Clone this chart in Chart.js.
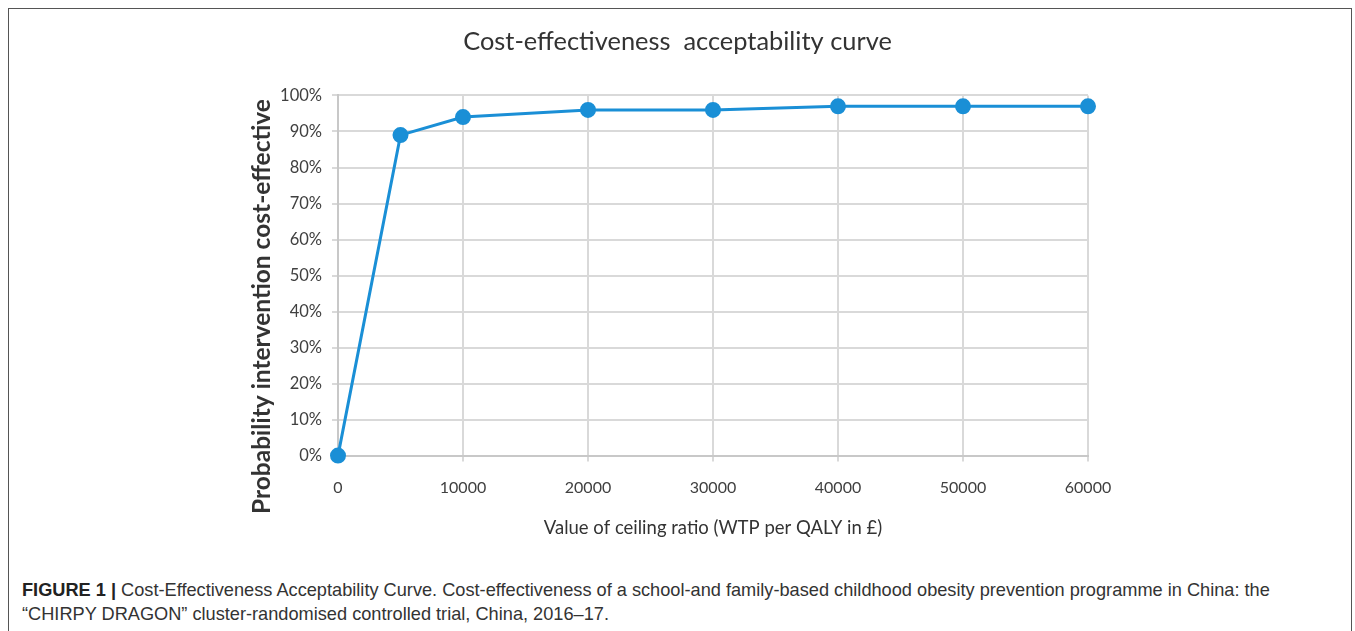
<!DOCTYPE html>
<html>
<head>
<meta charset="utf-8">
<script src="https://cdn.jsdelivr.net/npm/chart.js@4.4.1/dist/chart.umd.min.js"></script>
<style>
  html, body { margin: 0; padding: 0; background: #fff; }
  body { width: 1355px; height: 631px; position: relative; overflow: hidden; }
  #frame {
    position: absolute; left: 8px; top: 8px; width: 1344px; height: 700px;
    border: 1.5px solid #555; box-sizing: border-box;
  }
  #wrap { position: absolute; left: 0; top: 0; width: 1355px; height: 560px; }
  #caption {
    position: absolute; left: 22px; top: 578px; width: 1320px;
    font-family: "Liberation Sans", Arial, sans-serif;
    font-size: 18.2px; line-height: 24px; color: #333;
  }
  #caption b { color: #222; }
</style>
</head>
<body>
<div id="frame"></div>
<div id="wrap"><canvas id="cea"></canvas></div>
<div id="caption"><b>FIGURE 1 |</b> Cost-Effectiveness Acceptability Curve. Cost-effectiveness of a school-and family-based childhood obesity prevention programme in China: the<br>“CHIRPY DRAGON” cluster-randomised controlled trial, China, 2016–17.</div>
<script>
// ceiling ratio (WTP per QALY, £) and probability cost-effective (%)
const wtp = [0, 5000, 10000, 20000, 30000, 40000, 50000, 60000];
const probCE = [0, 89, 94, 96, 96, 97, 97, 97];
const xTicks = [0, 10000, 20000, 30000, 40000, 50000, 60000];

const FONT = 'Lato, "Open Sans", sans-serif';
const LINE = '#1a8fd6';
const Y_TITLE = 'Probability intervention cost-effective';

// y title sits a bit lower than the plot centre in the original, so draw it ourselves
const yTitlePlugin = {
  id: 'yTitle',
  afterDraw(chart) {
    const { ctx, chartArea } = chart;
    ctx.save();
    ctx.translate(chartArea.left - 76, (chartArea.top + chartArea.bottom) / 2 + 31);
    ctx.rotate(-Math.PI / 2);
    ctx.font = 'bold 24.5px ' + FONT;
    ctx.fillStyle = '#333';
    ctx.textAlign = 'center';
    ctx.textBaseline = 'middle';
    ctx.fillText(Y_TITLE, 0, 0);
    ctx.restore();
  }
};

new Chart(document.getElementById('cea'), {
  type: 'line',
  data: {
    datasets: [{
      data: wtp.map((w, i) => ({ x: w, y: probCE[i] })),
      borderColor: LINE,
      backgroundColor: LINE,
      borderWidth: 3,
      pointRadius: 6.5,
      pointHoverRadius: 6.5,
      tension: 0,
      clip: false
    }]
  },
  plugins: [yTitlePlugin],
  options: {
    responsive: true,
    maintainAspectRatio: false,
    animation: false,
    layout: { padding: { left: 267, right: 267, top: 27, bottom: 17 } },
    plugins: {
      legend: { display: false },
      tooltip: { enabled: false },
      title: {
        display: true,
        text: 'Cost-effectiveness  acceptability curve',
        color: '#333',
        font: { family: FONT, size: 25.4, weight: 'normal' },
        padding: { top: 0, bottom: 38 }
      }
    },
    scales: {
      x: {
        type: 'linear',
        min: 0,
        max: 60000,
        afterBuildTicks: axis => { axis.ticks = xTicks.map(v => ({ value: v })); },
        ticks: {
          color: '#404040',
          font: { family: FONT, size: 16 },
          padding: 17,
          callback: v => String(v)
        },
        grid: { color: '#d9d9d9', lineWidth: 2, tickLength: 6, drawTicks: true },
        border: { color: '#c8c8c8', width: 2 },
        title: {
          display: true,
          text: 'Value of ceiling ratio (WTP per QALY in £)',
          color: '#333',
          font: { family: FONT, size: 18.5 },
          padding: { top: 2 }
        }
      },
      y: {
        min: 0,
        max: 100,
        afterFit: axis => { axis.width = 71; },
        ticks: {
          stepSize: 10,
          color: '#404040',
          font: { family: FONT, size: 16.5 },
          padding: 10,
          callback: v => v + '%'
        },
        grid: { color: '#d9d9d9', lineWidth: 2, tickLength: 6, drawTicks: true },
        border: { color: '#c8c8c8', width: 2 }
      }
    }
  }
});
</script>
</body>
</html>
